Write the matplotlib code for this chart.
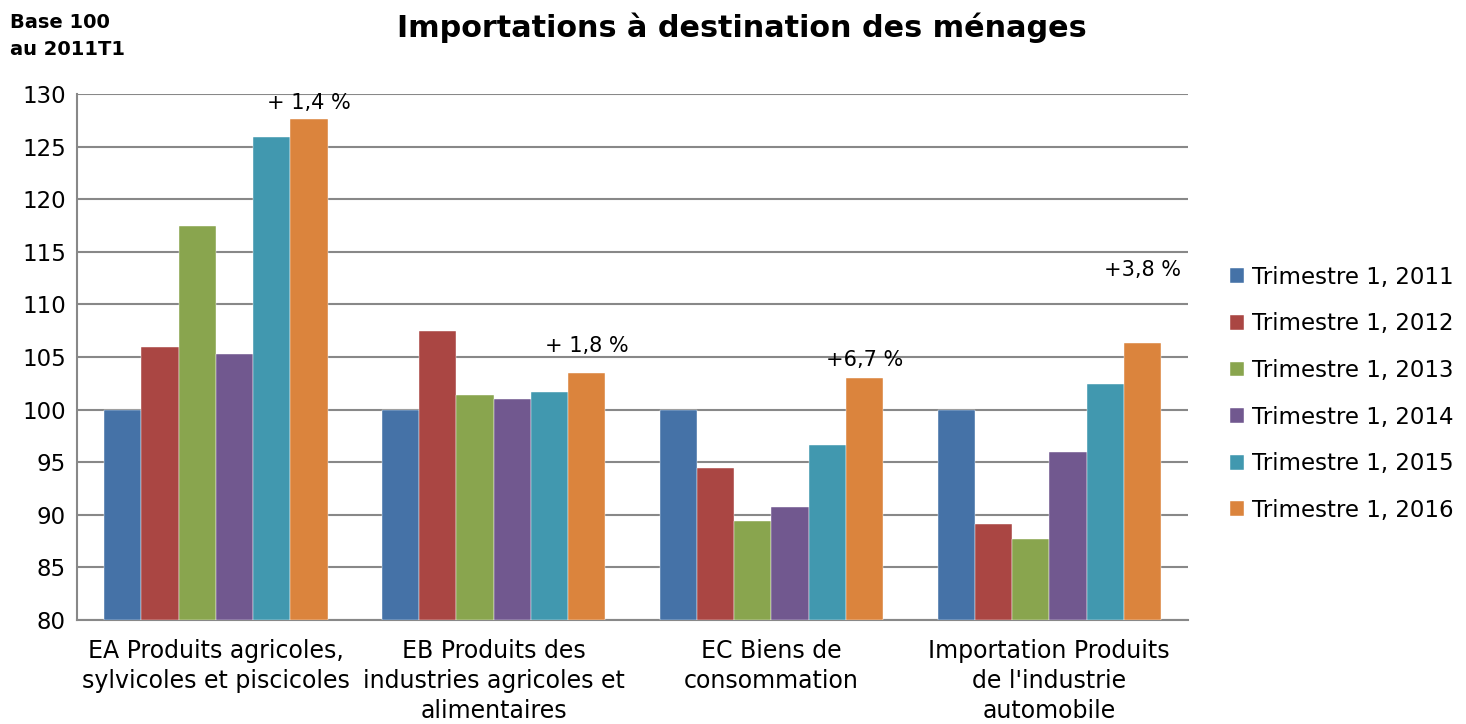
import matplotlib
matplotlib.use("Agg")
import matplotlib.pyplot as plt
import numpy as np

categories = ["EA Produits agricoles,\nsylvicoles et piscicoles",
              "EB Produits des\nindustries agricoles et\nalimentaires",
              "EC Biens de\nconsommation",
              "Importation Produits\nde l'industrie\nautomobile"]
series_names = ["Trimestre 1, 2011", "Trimestre 1, 2012", "Trimestre 1, 2013",
                "Trimestre 1, 2014", "Trimestre 1, 2015", "Trimestre 1, 2016"]
v2011 = [100.0, 100.0, 100.0, 100.0]
v2012 = [106.0, 107.5, 94.5, 89.1]
v2013 = [117.5, 101.4, 89.4, 87.7]
v2014 = [105.3, 101.0, 90.7, 96.0]
v2015 = [125.9, 101.7, 96.6, 102.4]
v2016 = [127.6, 103.5, 103.0, 106.3]
annot_texts = ["+ 1,4 %", "+ 1,8 %", "+6,7 %", "+3,8 %"]
annot_y = [129.2, 106.1, 104.7, 113.3]
yticks = [80, 85, 90, 95, 100, 105, 110, 115, 120, 125, 130]

colors = ["#4572A7", "#AA4643", "#89A54E", "#71588F", "#4198AF", "#DB843D"]
values = [v2011, v2012, v2013, v2014, v2015, v2016]

plt.rcParams['font.family'] = ['DejaVu Sans']
fig = plt.figure(figsize=(14.66, 7.24), dpi=100)
ax = fig.add_axes([0.0525, 0.1436, 0.758, 0.7264])

x = np.arange(len(categories))
w = 0.134
for i, (name, vals) in enumerate(zip(series_names, values)):
    ax.bar(x + (i - 2.5) * w, np.array(vals) - 80, bottom=80, width=w,
           color=colors[i], label=name, zorder=3, edgecolor='white', linewidth=0.3)

for j, (t, yy) in enumerate(zip(annot_texts, annot_y)):
    ax.text(x[j] + 2.5 * w, yy, t, ha='center', va='center', fontsize=15, zorder=4)

ax.set_ylim(80, 130)
ax.set_xlim(-0.5, 3.5)
ax.set_yticks(yticks)
ax.set_yticklabels([str(t) for t in yticks], fontsize=16.5)
ax.set_xticks(x)
ax.set_xticklabels(categories, fontsize=17, linespacing=1.3)
ax.tick_params(axis='x', length=0, pad=14)
ax.tick_params(axis='y', length=0, pad=8)
ax.yaxis.grid(True, color='#888888', linewidth=1.5, zorder=0)
ax.set_axisbelow(True)
for s in ['top', 'right']:
    ax.spines[s].set_visible(False)
for s in ['left', 'bottom']:
    ax.spines[s].set_color('#888888')
    ax.spines[s].set_linewidth(1.5)

fig.text(0.506, 0.961, "Importations à destination des ménages", ha='center', va='center',
         fontsize=21.8, fontweight='bold')
fig.text(0.007, 0.95, "Base 100\nau 2011T1", ha='left', va='center', fontsize=14,
         fontweight='bold', linespacing=1.5)

leg = fig.legend(loc='center left', bbox_to_anchor=(0.839, 0.456), frameon=False,
                 fontsize=16.5, handlelength=0.62, handleheight=0.62, handletextpad=0.35,
                 labelspacing=1.03, borderpad=0, borderaxespad=0)

fig.savefig("out.png", dpi=100)
